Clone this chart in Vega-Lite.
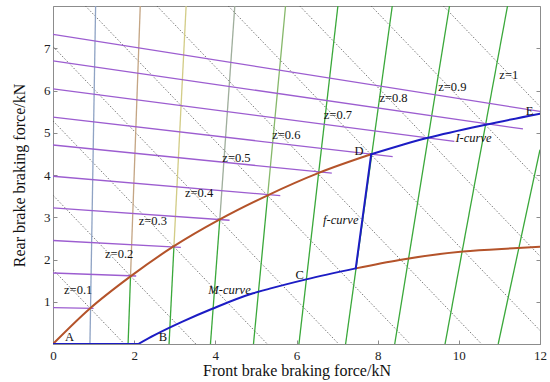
{
  "$schema": "https://vega.github.io/schema/vega-lite/v6.json",
  "width": 487,
  "height": 338,
  "autosize": {"type": "none"},
  "padding": {"left": 53, "top": 6, "right": 10, "bottom": 38},
  "background": "white",
  "config": {
    "font": "Liberation Serif",
    "view": {"stroke": "#8c8c8c", "strokeWidth": 1},
    "axis": {
      "grid": false,
      "domainColor": "#8c8c8c",
      "tickColor": "#8c8c8c",
      "tickSize": -4,
      "labelFont": "Liberation Serif",
      "labelFontSize": 13,
      "labelColor": "#222222",
      "titleFont": "Liberation Serif",
      "titleFontSize": 16,
      "titleFontWeight": "normal",
      "titleColor": "#111111"
    }
  },
  "datasets": {
    "dots": [
      {"z": 0.1, "x": 0, "y": 1.76}, {"z": 0.1, "x": 1.76, "y": 0},
      {"z": 0.2, "x": 0, "y": 3.52}, {"z": 0.2, "x": 3.52, "y": 0},
      {"z": 0.3, "x": 0, "y": 5.28}, {"z": 0.3, "x": 5.28, "y": 0},
      {"z": 0.4, "x": 0, "y": 7.04}, {"z": 0.4, "x": 7.04, "y": 0},
      {"z": 0.5, "x": 0.8, "y": 8}, {"z": 0.5, "x": 8.8, "y": 0},
      {"z": 0.6, "x": 2.56, "y": 8}, {"z": 0.6, "x": 10.56, "y": 0},
      {"z": 0.7, "x": 4.32, "y": 8}, {"z": 0.7, "x": 12, "y": 0.32},
      {"z": 0.8, "x": 6.08, "y": 8}, {"z": 0.8, "x": 12, "y": 2.08},
      {"z": 0.9, "x": 7.84, "y": 8}, {"z": 0.9, "x": 12, "y": 3.84},
      {"z": 1.0, "x": 9.62, "y": 8}, {"z": 1.0, "x": 12, "y": 5.62}
    ],
    "flines": [
      {"seg": "f01", "cls": "c1", "x": 0.91, "y": 0}, {"seg": "f01", "cls": "c1", "x": 1.05, "y": 8},
      {"seg": "f02a", "cls": "g", "x": 1.85, "y": 0}, {"seg": "f02a", "cls": "g", "x": 1.91, "y": 1.6},
      {"seg": "f02b", "cls": "c2", "x": 1.91, "y": 1.6}, {"seg": "f02b", "cls": "c2", "x": 2.15, "y": 8},
      {"seg": "f03a", "cls": "g", "x": 2.86, "y": 0}, {"seg": "f03a", "cls": "g", "x": 2.98, "y": 2.31},
      {"seg": "f03b", "cls": "c3", "x": 2.98, "y": 2.31}, {"seg": "f03b", "cls": "c3", "x": 3.28, "y": 8},
      {"seg": "f04a", "cls": "g", "x": 3.88, "y": 0}, {"seg": "f04a", "cls": "g", "x": 4.11, "y": 2.95},
      {"seg": "f04b", "cls": "c4", "x": 4.11, "y": 2.95}, {"seg": "f04b", "cls": "c4", "x": 4.48, "y": 8},
      {"seg": "f05a", "cls": "g", "x": 4.94, "y": 0}, {"seg": "f05a", "cls": "g", "x": 5.29, "y": 3.52},
      {"seg": "f05b", "cls": "c5", "x": 5.29, "y": 3.52}, {"seg": "f05b", "cls": "c5", "x": 5.73, "y": 8},
      {"seg": "f06", "cls": "g", "x": 6.06, "y": 0}, {"seg": "f06", "cls": "g", "x": 7.02, "y": 8},
      {"seg": "f07", "cls": "g", "x": 7.21, "y": 0}, {"seg": "f07", "cls": "g", "x": 8.36, "y": 8},
      {"seg": "f08", "cls": "g", "x": 8.42, "y": 0}, {"seg": "f08", "cls": "g", "x": 9.77, "y": 8},
      {"seg": "f09", "cls": "g", "x": 9.66, "y": 0}, {"seg": "f09", "cls": "g", "x": 11.2, "y": 8},
      {"seg": "f10", "cls": "g", "x": 10.97, "y": 0}, {"seg": "f10", "cls": "g", "x": 12, "y": 4.6}
    ],
    "rlines": [
      {"z": 0.1, "x": 0, "y": 0.86}, {"z": 0.1, "x": 1.0, "y": 0.842},
      {"z": 0.2, "x": 0, "y": 1.68}, {"z": 0.2, "x": 2.05, "y": 1.609},
      {"z": 0.3, "x": 0, "y": 2.45}, {"z": 0.3, "x": 3.15, "y": 2.289},
      {"z": 0.4, "x": 0, "y": 3.22}, {"z": 0.4, "x": 4.35, "y": 2.929},
      {"z": 0.5, "x": 0, "y": 3.97}, {"z": 0.5, "x": 5.6, "y": 3.511},
      {"z": 0.6, "x": 0, "y": 4.71}, {"z": 0.6, "x": 6.87, "y": 4.044},
      {"z": 0.7, "x": 0, "y": 5.37}, {"z": 0.7, "x": 8.37, "y": 4.433},
      {"z": 0.8, "x": 0, "y": 6.04}, {"z": 0.8, "x": 9.89, "y": 4.794},
      {"z": 0.9, "x": 0, "y": 6.7}, {"z": 0.9, "x": 11.58, "y": 5.09},
      {"z": 1.0, "x": 0, "y": 7.33}, {"z": 1.0, "x": 12, "y": 5.506}
    ],
    "curves": [
      {"seg": "I1", "cls": "brown", "x": 0, "y": 0},
      {"seg": "I1", "cls": "brown", "x": 0.91, "y": 0.84},
      {"seg": "I1", "cls": "brown", "x": 1.91, "y": 1.6},
      {"seg": "I1", "cls": "brown", "x": 2.97, "y": 2.31},
      {"seg": "I1", "cls": "brown", "x": 4.11, "y": 2.95},
      {"seg": "I1", "cls": "brown", "x": 5.29, "y": 3.52},
      {"seg": "I1", "cls": "brown", "x": 6.55, "y": 4.05},
      {"seg": "I1", "cls": "brown", "x": 7.84, "y": 4.49},
      {"seg": "Cr", "cls": "brown", "x": 7.46, "y": 1.79},
      {"seg": "Cr", "cls": "brown", "x": 8.54, "y": 1.99},
      {"seg": "Cr", "cls": "brown", "x": 10.1, "y": 2.19},
      {"seg": "Cr", "cls": "brown", "x": 11.45, "y": 2.27},
      {"seg": "Cr", "cls": "brown", "x": 12, "y": 2.3},
      {"seg": "AB", "cls": "blue", "x": 0, "y": 0},
      {"seg": "AB", "cls": "blue", "x": 2.1, "y": 0},
      {"seg": "BC", "cls": "blue", "x": 2.1, "y": 0},
      {"seg": "BC", "cls": "blue", "x": 2.5, "y": 0.21},
      {"seg": "BC", "cls": "blue", "x": 3.19, "y": 0.53},
      {"seg": "BC", "cls": "blue", "x": 3.94, "y": 0.84},
      {"seg": "BC", "cls": "blue", "x": 4.93, "y": 1.2},
      {"seg": "BC", "cls": "blue", "x": 5.34, "y": 1.31},
      {"seg": "BC", "cls": "blue", "x": 6.24, "y": 1.53},
      {"seg": "BC", "cls": "blue", "x": 7.46, "y": 1.79},
      {"seg": "CD", "cls": "blue", "x": 7.46, "y": 1.79},
      {"seg": "CD", "cls": "blue", "x": 7.84, "y": 4.49},
      {"seg": "DE", "cls": "blue", "x": 7.84, "y": 4.49},
      {"seg": "DE", "cls": "blue", "x": 9.24, "y": 4.88},
      {"seg": "DE", "cls": "blue", "x": 10.66, "y": 5.19},
      {"seg": "DE", "cls": "blue", "x": 12, "y": 5.45}
    ],
    "labels": [
      {"kind": "plain", "text": "A", "x": 0.41, "y": 0.17},
      {"kind": "plain", "text": "B", "x": 2.71, "y": 0.17},
      {"kind": "plain", "text": "C", "x": 6.08, "y": 1.64},
      {"kind": "plain", "text": "D", "x": 7.54, "y": 4.57},
      {"kind": "plain", "text": "E", "x": 11.74, "y": 5.52},
      {"kind": "plain", "text": "z=0.1", "x": 0.62, "y": 1.28},
      {"kind": "plain", "text": "z=0.2", "x": 1.63, "y": 2.13},
      {"kind": "plain", "text": "z=0.3", "x": 2.46, "y": 2.92},
      {"kind": "plain", "text": "z=0.4", "x": 3.6, "y": 3.58},
      {"kind": "plain", "text": "z=0.5", "x": 4.52, "y": 4.41},
      {"kind": "plain", "text": "z=0.6", "x": 5.75, "y": 4.95},
      {"kind": "plain", "text": "z=0.7", "x": 7.02, "y": 5.42},
      {"kind": "plain", "text": "z=0.8", "x": 8.39, "y": 5.82},
      {"kind": "plain", "text": "z=0.9", "x": 9.84, "y": 6.08},
      {"kind": "plain", "text": "z=1", "x": 11.23, "y": 6.37},
      {"kind": "italic", "text": "M-curve", "x": 4.35, "y": 1.28},
      {"kind": "italic", "text": "f-curve", "x": 7.09, "y": 2.93},
      {"kind": "italic", "text": "I-curve", "x": 10.36, "y": 4.87}
    ]
  },
  "encoding": {
    "x": {
      "field": "x",
      "type": "quantitative",
      "scale": {"domain": [0, 12], "nice": false, "zero": false},
      "axis": {
        "title": "Front brake braking force/kN",
        "values": [0, 2, 4, 6, 8, 10, 12],
        "labelPadding": 9,
        "titlePadding": 0,
        "labelFlush": false
      }
    }
  },
  "resolve": {"axis": {"y": "independent"}, "scale": {"color": "independent"}},
  "layer": [
    {
      "data": {"name": "dots"},
      "mark": {"type": "line", "color": "#555555", "strokeWidth": 0.8, "strokeDash": [1.5, 1.8], "clip": true},
      "encoding": {
        "y": {
          "field": "y",
          "type": "quantitative",
          "scale": {"domain": [0, 8], "nice": false, "zero": false},
          "axis": {
            "title": "Rear brake braking force/kN",
            "orient": "left",
            "values": [1, 2, 3, 4, 5, 6, 7],
            "labelPadding": 7,
            "titlePadding": 16,
            "labelFlush": false
          }
        },
        "detail": {"field": "z"}
      }
    },
    {
      "data": {"name": "flines"},
      "mark": {"type": "line", "strokeWidth": 1.3, "clip": true},
      "encoding": {
        "y": {"field": "y", "type": "quantitative", "scale": {"domain": [0, 8], "nice": false, "zero": false}, "axis": null},
        "detail": {"field": "seg"},
        "color": {
          "field": "cls",
          "type": "nominal",
          "scale": {"domain": ["g", "c1", "c2", "c3", "c4", "c5"], "range": ["#3aa83a", "#8fa3c4", "#c4a584", "#d2cc86", "#9fae9c", "#86b86a"]},
          "legend": null
        }
      }
    },
    {
      "data": {"name": "rlines"},
      "mark": {"type": "line", "color": "#9c5dd0", "strokeWidth": 1.3, "clip": true},
      "encoding": {
        "y": {
          "field": "y",
          "type": "quantitative",
          "scale": {"domain": [0, 8], "nice": false, "zero": false},
          "axis": {
            "orient": "right",
            "title": null,
            "labels": false,
            "values": [1, 2, 3, 4, 5, 6, 7]
          }
        },
        "detail": {"field": "z"}
      }
    },
    {
      "data": {"name": "curves"},
      "mark": {"type": "line", "strokeWidth": 2, "interpolate": "monotone", "strokeCap": "round", "clip": true},
      "encoding": {
        "y": {"field": "y", "type": "quantitative", "scale": {"domain": [0, 8], "nice": false, "zero": false}, "axis": null},
        "detail": {"field": "seg"},
        "color": {
          "field": "cls",
          "type": "nominal",
          "scale": {"domain": ["brown", "blue"], "range": ["#b4532a", "#1c1cc4"]},
          "legend": null
        }
      }
    },
    {
      "data": {"name": "labels"},
      "transform": [{"filter": "datum.kind === 'plain'"}],
      "mark": {"type": "text", "font": "Liberation Serif", "fontSize": 12.5, "color": "#111111", "align": "center", "baseline": "middle"},
      "encoding": {
        "y": {"field": "y", "type": "quantitative", "scale": {"domain": [0, 8], "nice": false, "zero": false}, "axis": null},
        "text": {"field": "text"}
      }
    },
    {
      "data": {"name": "labels"},
      "transform": [{"filter": "datum.kind === 'italic'"}],
      "mark": {"type": "text", "font": "Liberation Serif", "fontSize": 12.5, "fontStyle": "italic", "color": "#111111", "align": "center", "baseline": "middle"},
      "encoding": {
        "y": {"field": "y", "type": "quantitative", "scale": {"domain": [0, 8], "nice": false, "zero": false}, "axis": null},
        "text": {"field": "text"}
      }
    }
  ]
}
